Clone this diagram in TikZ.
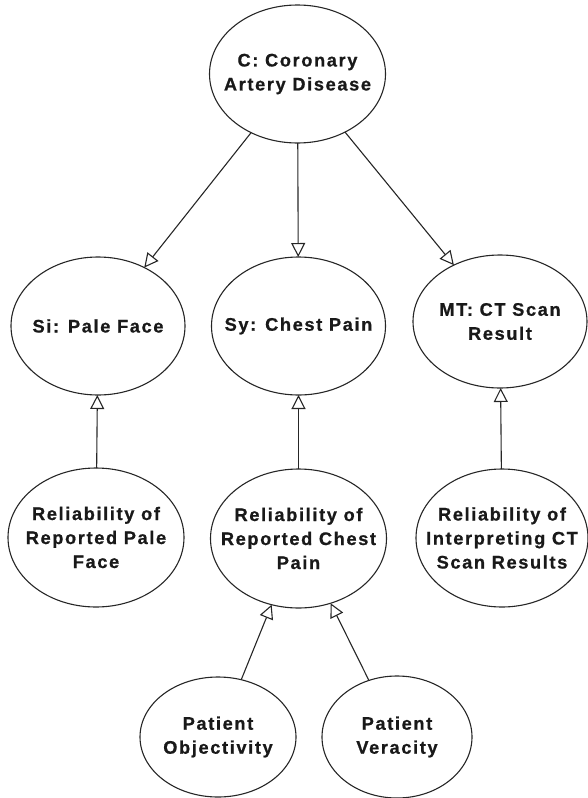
\documentclass[tikz,border=0pt]{standalone}
\usepackage{fontspec}
\newfontfamily\labfont[LetterSpace=9,BoldFeatures={FakeBold=0.8}]{Liberation Sans}
\usetikzlibrary{arrows.meta,shapes.geometric}
\begin{document}
\begin{tikzpicture}[x=1pt,y=-1pt,
  ell/.style={ellipse, draw=black!85, line width=1.1pt, inner sep=0pt, outer sep=0pt},
  lab/.style={align=center, inner sep=0pt, font=\labfont\bfseries\fontsize{18.2}{24}\selectfont, text=black!90},
  conn/.style={draw=black!85, line width=1.1pt, -{Triangle[open, length=14pt, width=14pt]}}]
\useasboundingbox (0,0) rectangle (588,798);
% ellipses
\node[ell, minimum width=176pt, minimum height=138pt] (C) at (297.5,74) {};
\node[ell, minimum width=174pt, minimum height=138pt] (Si) at (98,326) {};
\node[ell, minimum width=174pt, minimum height=138pt] (Sy) at (298.5,326) {};
\node[ell, minimum width=174pt, minimum height=133pt] (MT) at (500,321.5) {};
\node[ell, minimum width=176pt, minimum height=139pt] (R1) at (96,537.5) {};
\node[ell, minimum width=176pt, minimum height=139pt] (R2) at (298.5,538.5) {};
\node[ell, minimum width=172pt, minimum height=138pt] (R3) at (502,538) {};
\node[ell, minimum width=156pt, minimum height=120pt] (PO) at (218,737) {};
\node[ell, minimum width=150pt, minimum height=122pt] (PV) at (397,737) {};
% labels
\node[lab] (Ct) at (C) {C: Coronary\\Artery Disease};
\node[lab] (Sit) at (Si) {Si: Pale Face};
\node[lab] (Syt) at (Sy) {Sy: Chest Pain};
\node[lab] (MTt) at (MT) {MT: CT Scan\\Result};
\node[lab] (R1t) at (R1) {Reliability of\\Reported Pale\\Face};
\node[lab] (R2t) at (R2) {Reliability of\\Reported Chest\\Pain};
\node[lab] (R3t) at (R3) {Reliability of\\Interpreting CT\\Scan Results};
\node[lab] (POt) at (PO) {Patient\\Objectivity};
\node[lab] (PVt) at (PV) {Patient\\Veracity};
% connectors
\draw[conn] (C) -- (Si);
\draw[conn] (C) -- (Sy);
\draw[conn] (C) -- (MT);
\draw[conn] (R1) -- (Si);
\draw[conn] (R2) -- (Sy);
\draw[conn] (R3) -- (MT);
\draw[conn] (PO) -- (R2);
\draw[conn] (PV) -- (R2);
\end{tikzpicture}
\end{document}
